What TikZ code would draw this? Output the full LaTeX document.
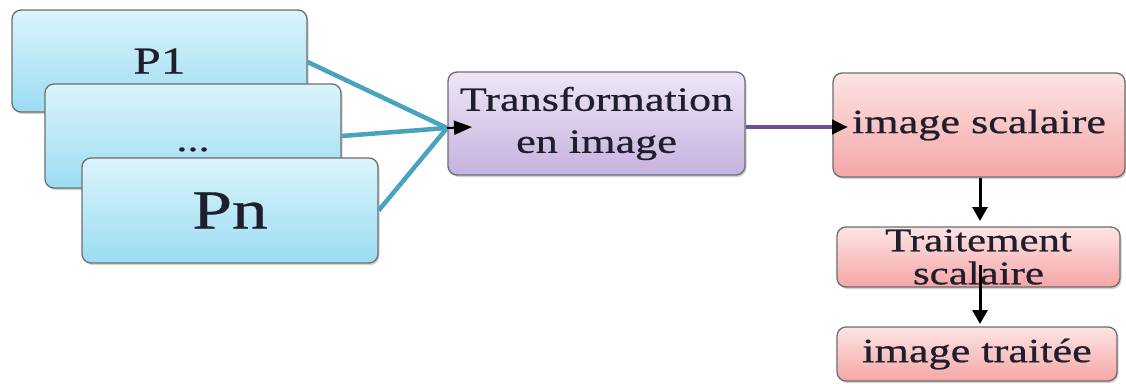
\documentclass[tikz,border=0pt]{standalone}
\usepackage{fontspec}
\setmainfont{Liberation Serif}[FakeStretch=1.3,FakeBold=0.6]
\usetikzlibrary{arrows.meta,shadows}
\definecolor{bluetop}{HTML}{DAF4FB}
\definecolor{bluebot}{HTML}{9CDCF2}
\definecolor{violtop}{HTML}{EEE6F6}
\definecolor{violbot}{HTML}{C6B2DF}
\definecolor{rosetop}{HTML}{FDE4E4}
\definecolor{rosebot}{HTML}{F5A6A6}
\definecolor{boxedge}{HTML}{6E6E6E}
\definecolor{tealline}{HTML}{4AA3BD}
\definecolor{violline}{HTML}{6E4E9E}
\definecolor{inktext}{HTML}{1E1E2C}
\tikzset{
  card/.style={draw=boxedge, line width=1.3pt, rounded corners=9pt,
    drop shadow={shadow xshift=1.5pt, shadow yshift=-2pt, opacity=0.35},
    inner sep=0pt, align=center, text=inktext, font=\fontsize{34}{42}\selectfont},
  bluecard/.style={card, top color=bluetop, bottom color=bluebot},
  violcard/.style={card, top color=violtop, bottom color=violbot},
  rosecard/.style={card, top color=rosetop, bottom color=rosebot},
  feed/.style={draw=tealline, line width=4.5pt},
  tiparrow/.style={-{Triangle[length=14pt,width=15pt]}, line width=3pt},
}
\begin{document}
\begin{tikzpicture}[x=1pt,y=-1pt]
\useasboundingbox[fill=white] (0,0) rectangle (1126,383);

% stacked parameter cards
\node[bluecard, minimum width=295pt, minimum height=102pt, font=\fontsize{38}{42}\selectfont] (p1) at (159.5,61) {P1};
\node[bluecard, minimum width=296pt, minimum height=104pt, text height=30pt, text depth=0pt] (pdots) at (193,136) {...};
\node[bluecard, minimum width=296pt, minimum height=105pt, font=\fontsize{55}{60}\selectfont] (pn) at (230,210.5) {Pn};

% processing chain
\node[violcard, minimum width=297pt, minimum height=103pt] (tr) at (596.5,123.5) {Transformation\\en image};
\node[rosecard, minimum width=292pt, minimum height=104pt] (sc) at (979,125) {image scalaire};
\node[rosecard, minimum width=283pt, minimum height=60pt, font=\fontsize{33}{33}\selectfont] (ts) at (978.5,257) {Traitement\\scalaire};
\node[rosecard, minimum width=280pt, minimum height=54pt] (it) at (977,354) {image traitée};

% converging feeds
\coordinate (join) at (447,128);
\coordinate (trtip) at (472,127);
\draw[feed] (p1.east |- 0,62) -- (join);
\draw[feed] (pdots.east) -- (join);
\draw[feed] (pn.east) -- (join);
\draw[-{Triangle[length=18pt,width=14pt]}, line width=2pt] (join) -- (trtip);

% transformation to scalar image
\coordinate (sctip) at (848,127);
\draw[draw=violline, line width=4.5pt, -{Triangle[length=16pt,width=14pt,color=black]}] (tr.east |- sctip) -- (sctip);

% vertical chain
\coordinate (tstip) at (980,221);
\coordinate (ittip) at (980,324);
\coordinate (tsmid) at (980,265);
\draw[tiparrow] (sc.south -| tstip) -- (tstip);
\draw[tiparrow] (tsmid) -- (ittip);
\end{tikzpicture}
\end{document}
